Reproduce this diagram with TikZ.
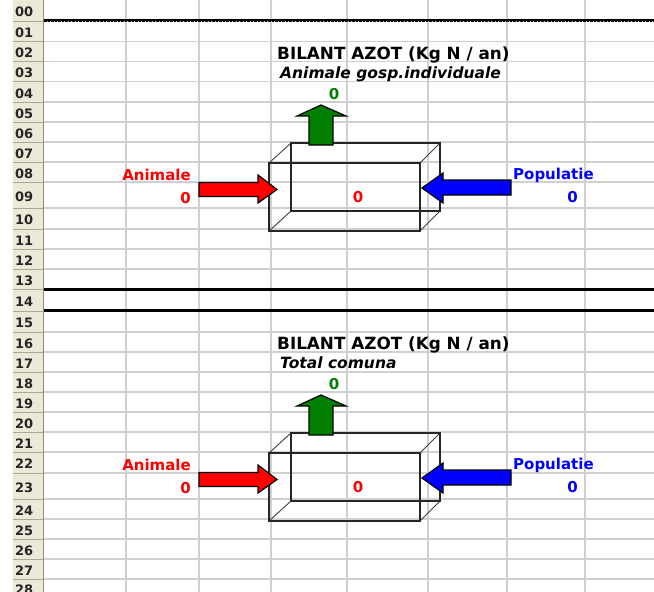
\documentclass[tikz,border=0pt]{standalone}
\usepackage{fontspec}
\setmainfont{DejaVu Sans}
\definecolor{hdrfill}{HTML}{ECE9D8}
\definecolor{hdrsep}{HTML}{ACA899}
\definecolor{hdrborder}{HTML}{8C8A7C}
\definecolor{gridc}{HTML}{D0D0D0}
\definecolor{darkgreen}{HTML}{007F00}
\begin{document}
\begin{tikzpicture}[x=1pt,y=-1pt,
  gridline/.style={gridc,line width=1.5pt},
  hdrline/.style={hdrsep,line width=1pt},
  rowlabel/.style={anchor=west,inner sep=0pt,font=\bfseries\fontsize{13}{13}\selectfont,text=black!85},
  boxedge/.style={black!85,line width=1.9pt},
  boxdiag/.style={black!75,line width=0.9pt},
  blockarrow/.style={draw=black,line width=1.2pt,line join=miter},
  lbl/.style={inner sep=0pt,font=\bfseries\fontsize{15}{15}\selectfont},
  titletext/.style={inner sep=0pt,anchor=base west,font=\bfseries\fontsize{16.8}{17}\selectfont},
  subtext/.style={inner sep=0pt,anchor=base west,font=\bfseries\itshape\fontsize{15.5}{16}\selectfont},
  thickrule/.style={black,line width=2.8pt}
]
\useasboundingbox (0,0) rectangle (654,592);
\clip (0,0) rectangle (654,592);
\fill[white] (0,0) rectangle (654,592);
% row header column
\fill[hdrfill] (13,0) rectangle (44,592);
% grid
\foreach \yy in {21.5,41.5,61.5,81.5,102,122,142,162,182,208,229,249,269,289,311,332,352,372,392,412,432,452,473,499,519,539,559,579}{
  \draw[gridline] (44,\yy) -- (654,\yy);
  \draw[hdrline] (13,\yy) -- (43,\yy);
}
\foreach \xx in {126,199,271,347,428,507,585}{
  \draw[gridline] (\xx,0) -- (\xx,592);
}
\draw[hdrborder,line width=1.2pt] (43.5,0) -- (43.5,592);
% row labels
\foreach \lab/\yc in {00/12,01/33,02/53,03/73,04/93.5,05/113.5,06/133.5,07/153.5,08/173.5,09/197,10/220,11/240.5,12/260.5,13/280.5,14/301.5,15/323,16/343.5,17/363.5,18/383.5,19/403.5,20/423.5,21/443.5,22/464,23/487.5,24/510.5,25/530.5,26/550.5,27/570.5,28/590}{
  \node[rowlabel] (rl\lab) at (15,\yc) {\lab};
}
% top dashed rule
\draw[black,line width=1.6pt] (44,19.8) -- (654,19.8);
\draw[black,line width=1.4pt,dash pattern=on 2.5pt off 1pt] (44,21.3) -- (654,21.3);
% separator rules
\draw[thickrule] (44,289.5) -- (654,289.5);
\draw[thickrule] (44,310.8) -- (654,310.8);
% two balance blocks
\foreach \dy/\k/\sub in {0/a/{Animale gosp.individuale},290/b/{Total comuna}}{
\begin{scope}[shift={(0,\dy)}]
  % wireframe box
  \draw[boxdiag] (269,163) -- (291,143) (420,163) -- (440,143)
                 (269,231) -- (291,211) (420,231) -- (440,211);
  \draw[boxedge] (291,143) rectangle (440,211);
  \draw[boxedge] (269,163) rectangle (420,231);
  % arrows
  \filldraw[blockarrow,fill=red] (199,182.5) -- (258,182.5) -- (258,175) -- (277,189.5)
     -- (258,203) -- (258,196.5) -- (199,196.5) -- cycle;
  \filldraw[blockarrow,fill=blue] (511,180) -- (443,180) -- (443,173) -- (422,188)
     -- (443,203) -- (443,195) -- (511,195) -- cycle;
  \filldraw[blockarrow,fill=darkgreen] (309,145) -- (309,116) -- (297,116) -- (321,105)
     -- (346,116) -- (333,116) -- (333,145) -- cycle;
  % texts
  \node[titletext] (title\k) at (277,59) {BILANT AZOT (Kg N / an)};
  \node[subtext] (sub\k) at (280,78.5) {\sub};
  \node[lbl,text=darkgreen,anchor=base] (out\k) at (334,99) {0};
  \node[lbl,text=red,anchor=base east] (anl\k) at (191,180) {Animale};
  \node[lbl,text=red,anchor=base east] (anv\k) at (191,203) {0};
  \node[lbl,text=red,anchor=base] (bal\k) at (358,202.5) {0};
  \node[lbl,text=blue,anchor=base west] (pl\k) at (513,179.5) {Populatie};
  \node[lbl,text=blue,anchor=base east] (pv\k) at (578,202.7) {0};
\end{scope}
}
\end{tikzpicture}
\end{document}
